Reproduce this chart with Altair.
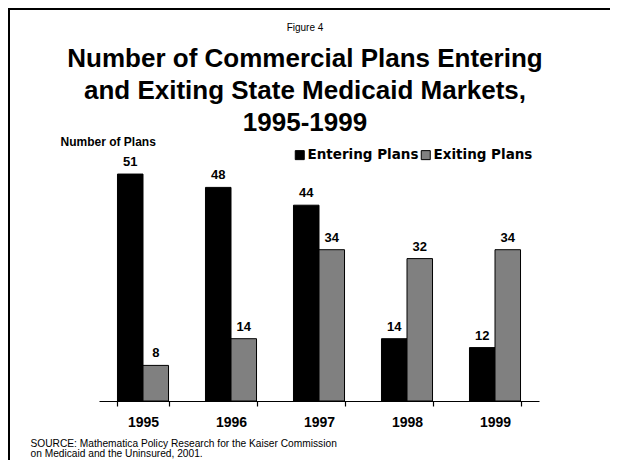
import altair as alt
import pandas as pd

years = ["1995", "1996", "1997", "1998", "1999"]
entering = [51, 48, 44, 14, 12]
exiting = [8, 14, 34, 32, 34]
series_names = ["Entering Plans", "Exiting Plans"]
series_colors = ["#000000", "#808080"]
title_small = "Figure 4"
title_lines = ["Number of Commercial Plans Entering",
               "and Exiting State Medicaid Markets,",
               "1995-1999"]
y_title = "Number of Plans"
source_lines = ["SOURCE: Mathematica Policy Research for the Kaiser Commission",
                "on Medicaid and the Uninsured, 2001."]

rows = []
for i, yr in enumerate(years):
    rows.append({"year": yr, "series": series_names[0], "value": entering[i]})
    rows.append({"year": yr, "series": series_names[1], "value": exiting[i]})
df = pd.DataFrame(rows)

FONT = "Liberation Sans"

x_enc = alt.X("year:N", sort=years,
              scale=alt.Scale(paddingInner=0.42, paddingOuter=0.21),
              axis=alt.Axis(title=source_lines, labelAngle=0, labelFont=FONT,
                            labelFontSize=14, labelFontWeight="bold", labelColor="black",
                            labelPadding=9, domainColor="black", domainWidth=1.2,
                            tickColor="black", tickSize=5, tickWidth=1.2,
                            tickBand="extent",
                            titleFont=FONT, titleFontSize=10.2, titleFontWeight="normal",
                            titleColor="black", titleAnchor="start", titleAlign="left",
                            titleBaseline="middle", titleLineHeight=10,
                            titleX=-69, titleY=42))
y_scale = alt.Scale(domain=[0, 60])

bars = alt.Chart(df).mark_bar(stroke="black", strokeWidth=1).encode(
    x=x_enc,
    xOffset=alt.XOffset("series:N", sort=series_names),
    y=alt.Y("value:Q", scale=y_scale,
            axis=alt.Axis(title=y_title, domain=False, ticks=False, labels=False,
                          grid=False, titleAngle=0, titleAlign="left",
                          titleBaseline="middle", titleFont=FONT, titleFontSize=12,
                          titleFontWeight="bold", titleColor="black",
                          titleX=-39, titleY=7)),
    color=alt.Color("series:N", sort=series_names,
                    scale=alt.Scale(domain=series_names, range=series_colors),
                    legend=alt.Legend(title=None, orient="none", direction="horizontal",
                                      legendX=194, legendY=14, symbolType="square",
                                      symbolSize=81, symbolStrokeColor="black",
                                      symbolStrokeWidth=1, labelFont="DejaVu Sans",
                                      labelFontSize=13.5, labelFontWeight="bold",
                                      labelColor="black", labelOffset=1,
                                      columnPadding=0)),
)

labels = alt.Chart(df).mark_text(baseline="bottom", dy=-5, font=FONT, fontSize=13,
                                 fontWeight="bold", color="black").encode(
    x=alt.X("year:N", sort=years),
    xOffset=alt.XOffset("series:N", sort=series_names),
    y=alt.Y("value:Q", scale=y_scale),
    text=alt.Text("value:Q"),
)

top_border = alt.Chart(pd.DataFrame({"k": [0]})).mark_rule(color="black", strokeWidth=2).encode(
    x=alt.value(-91), x2=alt.value(511), y=alt.value(-125))
left_border = alt.Chart(pd.DataFrame({"k": [0]})).mark_rule(color="black", strokeWidth=2).encode(
    x=alt.value(-90), y=alt.value(-126), y2=alt.value(326))

chart = alt.layer(bars, labels, top_border, left_border).properties(
    width=440, height=267,
    autosize=alt.AutoSizeParams(type="none"),
    padding={"left": 91, "top": 126, "right": 71, "bottom": 59},
    background="white",
    title=alt.TitleParams(text=title_small, subtitle=title_lines, anchor="middle",
                          dx=-14, dy=133, offset=4, font=FONT, fontSize=10,
                          fontWeight="normal", color="black",
                          subtitleFont=FONT, subtitleFontSize=26,
                          subtitleFontWeight="bold", subtitleColor="black",
                          subtitleLineHeight=32, subtitlePadding=13),
).configure_view(stroke=None)

chart.save("out.html", embed_options={"renderer": "svg", "actions": False})
